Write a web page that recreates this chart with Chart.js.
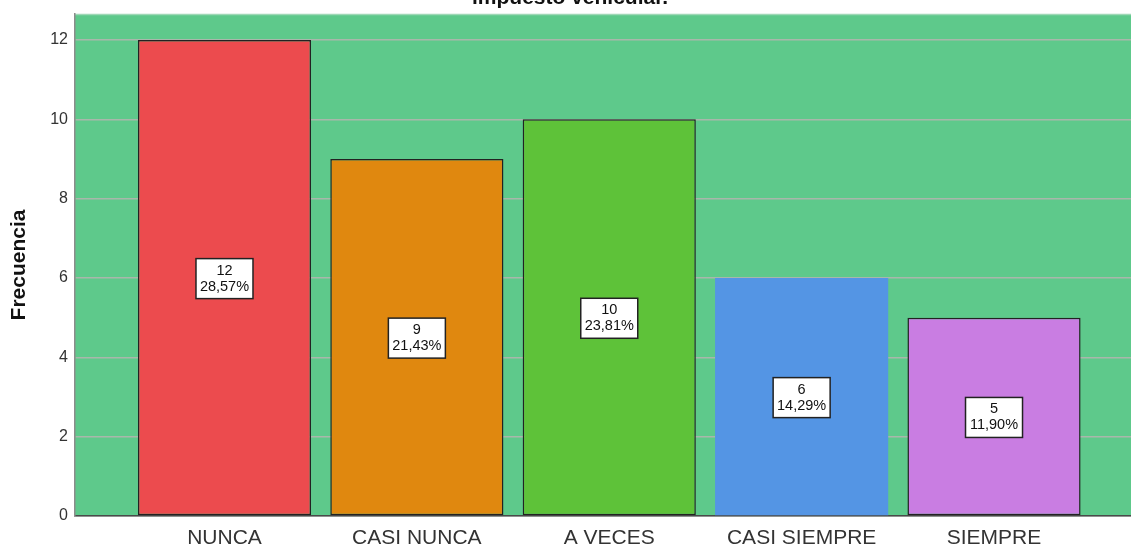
<!DOCTYPE html>
<html>
<head>
<meta charset="utf-8">
<script src="https://cdn.jsdelivr.net/npm/chart.js@4.4.1/dist/chart.umd.min.js"></script>
<style>
  html, body { margin: 0; padding: 0; background: #fff; overflow: hidden; }
  canvas { display: block; }
</style>
</head>
<body>
<canvas id="freqChart" width="1131" height="546"></canvas>
<script>
// data
const categories = ['NUNCA', 'CASI NUNCA', 'A VECES', 'CASI SIEMPRE', 'SIEMPRE'];
const counts = [12, 9, 10, 6, 5];
const percents = ['28,57%', '21,43%', '23,81%', '14,29%', '11,90%'];
const yTicks = [0, 2, 4, 6, 8, 10, 12];
const chartTitle = 'impuesto vehicular.';

const barColors = ['#ec4b4e', '#e0880f', '#5ec239', '#5495e4', '#c97de2'];
const barBorderWidths = [1.5, 1.5, 1.5, 0, 1.5];

// green plot background
const plotBg = {
  id: 'plotBg',
  beforeDraw(chart) {
    const { ctx, chartArea: a } = chart;
    ctx.save();
    ctx.fillStyle = '#5ec98b';
    ctx.fillRect(a.left, a.top, a.right - a.left, a.bottom - a.top);
    ctx.strokeStyle = '#9fd8b6';
    ctx.lineWidth = 1.5;
    ctx.beginPath();
    ctx.moveTo(a.left, a.top + 0.5);
    ctx.lineTo(a.right, a.top + 0.5);
    ctx.stroke();
    ctx.restore();
  }
};

// boxed "count / percent" labels in the middle of each bar
const barLabels = {
  id: 'barLabels',
  afterDatasetsDraw(chart) {
    const { ctx } = chart;
    const meta = chart.getDatasetMeta(0);
    ctx.save();
    ctx.font = '14.5px Arial, "Liberation Sans", sans-serif';
    ctx.textAlign = 'center';
    ctx.textBaseline = 'middle';
    meta.data.forEach((bar, i) => {
      const cx = bar.x;
      const cy = (bar.y + bar.base) / 2 + 1;
      const w = 57, h = 40;
      ctx.fillStyle = '#fff';
      ctx.fillRect(cx - w / 2, cy - h / 2, w, h);
      ctx.strokeStyle = '#222';
      ctx.lineWidth = 1.5;
      ctx.strokeRect(cx - w / 2, cy - h / 2, w, h);
      ctx.fillStyle = '#111';
      ctx.fillText(String(counts[i]), cx, cy - 8);
      ctx.fillText(percents[i], cx, cy + 8);
    });
    ctx.restore();
  }
};

// title, cut off at the top like the original
const cutTitle = {
  id: 'cutTitle',
  afterDraw(chart) {
    const { ctx } = chart;
    ctx.save();
    ctx.font = 'bold 21px Arial, "Liberation Sans", sans-serif';
    ctx.fillStyle = '#111';
    ctx.textAlign = 'center';
    ctx.textBaseline = 'alphabetic';
    ctx.fillText(chartTitle, 570, 4);
    ctx.restore();
  }
};

const ctx = document.getElementById('freqChart').getContext('2d');
const freqChart = new Chart(ctx, {
  type: 'bar',
  data: {
    datasets: [{
      label: 'Frecuencia',
      data: categories.map((c, i) => ({ x: i, y: counts[i] })),
      backgroundColor: barColors,
      borderColor: '#222',
      borderWidth: barBorderWidths,
      borderSkipped: false,
      barPercentage: 0.9,
      categoryPercentage: 1.0
    }]
  },
  options: {
    responsive: false,
    devicePixelRatio: 1,
    animation: false,
    layout: { padding: { top: 14, left: 0, right: 0, bottom: 0 } },
    plugins: {
      legend: { display: false },
      tooltip: { enabled: false }
    },
    scales: {
      x: {
        type: 'linear',
        offset: false,
        min: -0.777,
        max: 4.712,
        afterBuildTicks: s => { s.ticks = categories.map((c, i) => ({ value: i })); },
        afterFit: s => { s.height = 30; s.paddingLeft = 0; s.paddingRight = 0; },
        grid: { display: false, drawTicks: false, offset: false },
        border: { display: true, color: '#4a4a4a', width: 1.5 },
        ticks: {
          autoSkip: false,
          maxRotation: 0,
          padding: 10,
          color: '#333',
          font: { size: 21, family: 'Arial, "Liberation Sans", sans-serif' },
          callback: v => categories[v] ?? ''
        }
      },
      y: {
        min: 0,
        max: 12.655,
        afterBuildTicks: s => { s.ticks = yTicks.map(v => ({ value: v })); },
        afterFit: s => { s.width = 75; s.paddingTop = 0; s.paddingBottom = 0; },
        grid: { color: '#a9b7ab', lineWidth: 1.5, drawTicks: false },
        border: { color: '#8c8c8c', width: 1.5 },
        ticks: {
          padding: 7,
          color: '#333',
          font: { size: 16, family: 'Arial, "Liberation Sans", sans-serif' }
        },
        title: {
          display: true,
          text: 'Frecuencia',
          color: '#111',
          font: { size: 21, weight: 'bold', family: 'Arial, "Liberation Sans", sans-serif' },
          padding: { top: 7, bottom: 0 }
        }
      }
    }
  },
  plugins: [plotBg, barLabels, cutTitle]
});
</script>
</body>
</html>
